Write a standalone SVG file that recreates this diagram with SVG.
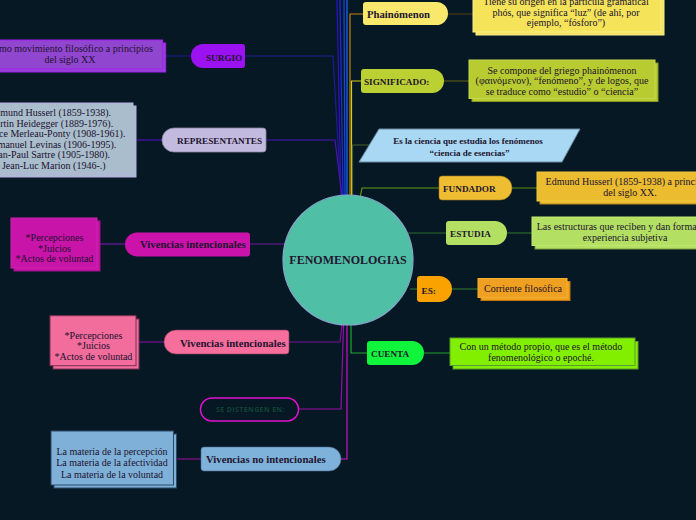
<svg xmlns="http://www.w3.org/2000/svg" width="696" height="520" viewBox="0 0 696 520">
<style>
.bg{fill:#061824}
.c{fill:none;stroke-width:1.2}
.t{font-family:"Liberation Serif","Times New Roman",serif;font-size:10px;fill:#21122e;text-anchor:middle}
.lbl{font-family:"Liberation Serif","Times New Roman",serif;font-weight:bold;fill:#22152e}
.cap{font-size:9.2px}
.mix{font-size:10.7px}
.sh{stroke-width:1}
</style>
<rect class="bg" x="0" y="0" width="696" height="520"/>

<g id="connectors">
  <path class="c" d="M337,0 L341,196" stroke="#3010c8"/>
  <path class="c" d="M340,0 L343,196" stroke="#1c2ce6"/>
  <path class="c" d="M344,0 L345,196" stroke="#1048f8"/>
  <path class="c" d="M347,0 L347,196" stroke="#1a6cff"/>
  <path class="c" d="M245,56 H333 L341,196" stroke="#221a96"/>
  <path class="c" d="M163,56 H191" stroke="#1c1c7a"/>
  <path class="c" d="M266,140 H335 L342,196" stroke="#4a12b8"/>
  <path class="c" d="M137,140 H162" stroke="#4a12b8"/>
  <path class="c" d="M363,14 H350 V196" stroke="#c8800e"/>
  <path class="c" d="M448,14 H473" stroke="#4a3a12"/>
  <path class="c" d="M361,81 H351.5 V196" stroke="#d6cc1a"/>
  <path class="c" d="M444,81 H469" stroke="#5a5a18"/>
  <path class="c" d="M369,145 H352.5 V196" stroke="#44602a"/>
  <path class="c" d="M439,188 H362 L360,198" stroke="#5c9c12"/>
  <path class="c" d="M512,188 H537" stroke="#4a7a12"/>
  <path class="c" d="M446,233 H408" stroke="#2a6a2a"/>
  <path class="c" d="M507,233 H532" stroke="#2a6a2a"/>
  <path class="c" d="M417,289 H410" stroke="#2a7030"/>
  <path class="c" d="M452,289 H478" stroke="#2a7030"/>
  <path class="c" d="M367,353 H351 V323" stroke="#1ca82c"/>
  <path class="c" d="M424,353 H450" stroke="#1c8a2a"/>
  <path class="c" d="M250,244 H285" stroke="#6a1aa0"/>
  <path class="c" d="M100,244 H125" stroke="#6a1aa0"/>
  <path class="c" d="M289,342 H340 L342,325" stroke="#7a109a"/>
  <path class="c" d="M139,342 H164" stroke="#7a109a"/>
  <path class="c" d="M299,409 H341 L343.5,325" stroke="#9a0ca8"/>
  <path class="c" d="M341,459 H347 V325" stroke="#c812c8"/>
  <path class="c" d="M176,459 H201" stroke="#8a108a"/>
</g>

<g id="center">
  <circle cx="348" cy="260" r="65" fill="#4fbfa5" stroke="#86a8cc" stroke-width="1.2"/>
  <text x="348" y="264" class="lbl" font-size="12" text-anchor="middle">FENOMENOLOGIAS</text>
</g>

<g id="surgio">
  <path d="M203,44 H242 Q245,44 245,47 V65 Q245,68 242,68 H203 A12,12 0 0 1 203,44 Z" fill="#9a12f2"/>
  <text x="206" y="60.5" class="lbl cap">SURGIO</text>
</g>
<g id="surgio-box">
  <rect x="-20" y="43" width="185.7" height="29" fill="#9146cf" stroke="#a51cf5" class="sh"/>
  <rect x="-23" y="40" width="185.7" height="29" fill="#9146cf" stroke="#a51cf5" class="sh"/>
  <text class="t"><tspan x="70" y="52">Como movimiento filosófico a principios</tspan><tspan x="70" y="63">del siglo XX</tspan></text>
</g>

<g id="representantes">
  <path d="M174,128 H263 Q266,128 266,131 V149 Q266,152 263,152 H174 A12,12 0 0 1 174,128 Z" fill="#c3bbdf" stroke="#8a86a0" stroke-width="0.8"/>
  <text x="177" y="144" class="lbl cap">REPRESENTANTES</text>
</g>
<g id="representantes-box">
  <rect x="-30" y="106" width="166" height="71" fill="#a9bdcc" stroke="#b8b0e0" class="sh"/>
  <rect x="-33" y="103" width="166" height="71" fill="#a9bdcc" stroke="#b8b0e0" class="sh"/>
  <text class="t"><tspan x="50" y="116">Edmund Husserl (1859-1938).</tspan><tspan x="50" y="126.5">Martin Heidegger (1889-1976).</tspan><tspan x="50" y="137">Maurice Merleau-Ponty (1908-1961).</tspan><tspan x="50" y="147.5">Emmanuel Levinas (1906-1995).</tspan><tspan x="50" y="158">Jean-Paul Sartre (1905-1980).</tspan><tspan x="50" y="168.5">y Jean-Luc Marion (1946-.)</tspan></text>
</g>

<g id="vivencias-1">
  <path d="M137,232.5 H247 Q250,232.5 250,235.5 V253.5 Q250,256.5 247,256.5 H137 A12,12 0 0 1 137,232.5 Z" fill="#cb12ab"/>
  <text x="140" y="248" class="lbl mix">Vivencias intencionales</text>
</g>
<g id="vivencias-1-box">
  <rect x="14" y="221" width="86" height="50" fill="#c814a8" stroke="#a01088" class="sh"/>
  <rect x="11" y="218" width="86" height="50" fill="#c814a8" stroke="#d020b0" class="sh"/>
  <text class="t"><tspan x="54.5" y="241">*Percepciones</tspan><tspan x="54.5" y="251.5">*Juicios</tspan><tspan x="54.5" y="262">*Actos de voluntad</tspan></text>
</g>

<g id="vivencias-2">
  <path d="M176,330 H286 Q289,330 289,333 V351 Q289,354 286,354 H176 A12,12 0 0 1 176,330 Z" fill="#f56e9c" stroke="#8a3a5a" stroke-width="0.6"/>
  <text x="180" y="346.5" class="lbl mix">Vivencias intencionales</text>
</g>
<g id="vivencias-2-box">
  <rect x="53" y="319" width="86" height="50" fill="#f26c9c" stroke="#7a3050" class="sh"/>
  <rect x="50" y="315.7" width="86" height="50" fill="#f26c9c" stroke="#7a3050" class="sh"/>
  <text class="t"><tspan x="93.5" y="339">*Percepciones</tspan><tspan x="93.5" y="349.3">*Juicios</tspan><tspan x="93.5" y="359.6">*Actos de voluntad</tspan></text>
</g>

<g id="se-distengen">
  <rect x="200.5" y="398" width="98" height="23" rx="11.5" fill="#061824" stroke="#e010d0" stroke-width="1.5"/>
  <text x="250.5" y="411.8" font-family="'Open Sans','DejaVu Sans',sans-serif" font-weight="bold" font-size="7" letter-spacing="0.4" fill="#0f4434" text-anchor="middle">SE DISTENGEN EN:</text>
</g>

<g id="no-intencionales">
  <path d="M204,447 H329 A12,12 0 0 1 329,471 H204 Q201,471 201,468 V450 Q201,447 204,447 Z" fill="#7fb2da" stroke="#4a6a8a" stroke-width="0.6"/>
  <text x="206" y="463" class="lbl mix">Vivencias no intencionales</text>
</g>
<g id="no-intencionales-box">
  <rect x="54" y="434" width="122.5" height="54" fill="#7eb0d8" stroke="#2a4a6a" class="sh"/>
  <rect x="51" y="431" width="122.5" height="54" fill="#7eb0d8" stroke="#2a4a6a" class="sh"/>
  <text class="t"><tspan x="112" y="454.5">La materia de la percepción</tspan><tspan x="112" y="466">La materia de la afectividad</tspan><tspan x="112" y="477.5">La materia de la voluntad</tspan></text>
</g>

<g id="phainomenon">
  <path d="M366,2 H436.5 A11.5,11.5 0 0 1 436.5,25 H366 Q363,25 363,22 V5 Q363,2 366,2 Z" fill="#f9e86b"/>
  <text x="367" y="17.5" class="lbl mix">Phainómenon</text>
</g>
<g id="phainomenon-box">
  <rect x="476" y="-9" width="188" height="44" fill="#f5e35a" stroke="#f8ee90" class="sh"/>
  <rect x="473" y="-12" width="188" height="44" fill="#f5e35a" stroke="#f8ee90" class="sh"/>
  <text class="t"><tspan x="566" y="5">Tiene su origen en la partícula gramatical</tspan><tspan x="566" y="15.5">phós, que significa “luz” (de ahí, por</tspan><tspan x="566" y="26">ejemplo, “fósforo”)</tspan></text>
</g>

<g id="significado">
  <path d="M364,69 H432 A12,12 0 0 1 432,93 H364 Q361,93 361,90 V72 Q361,69 364,69 Z" fill="#bbd032"/>
  <text x="364" y="84.5" class="lbl cap">SIGNIFICADO:</text>
</g>
<g id="significado-box">
  <rect x="472" y="63" width="186" height="38.5" fill="#b8cb30" stroke="#8a9a20" class="sh"/>
  <rect x="469" y="60" width="186" height="38.5" fill="#b8cb30" stroke="#c8d850" class="sh"/>
  <text class="t"><tspan x="562" y="73.5">Se compone del griego phainómenon</tspan><tspan x="562" y="84">(φαινόμενον), “fenómeno”, y de logos, que</tspan><tspan x="562" y="94.5">se traduce como “estudio” o “ciencia”</tspan></text>
</g>

<g id="es-la-ciencia">
  <polygon points="379,129 580,129 562,162 359,162" fill="#a8d8f4" stroke="#6a8aa0" stroke-width="1"/>
  <text class="lbl" font-size="9" text-anchor="middle"><tspan x="468" y="144">Es la ciencia que estudia los fenómenos</tspan><tspan x="469.5" y="156">“ciencia de esencias”</tspan></text>
</g>

<g id="fundador">
  <path d="M442,176 H500 A12,12 0 0 1 500,200 H442 Q439,200 439,197 V179 Q439,176 442,176 Z" fill="#eebd32" stroke="#9a7a20" stroke-width="0.6"/>
  <text x="443" y="192" class="lbl cap">FUNDADOR</text>
</g>
<g id="fundador-box">
  <rect x="540" y="175" width="190" height="29" fill="#ebbb30" stroke="#b08a20" class="sh"/>
  <rect x="537" y="172" width="190" height="29" fill="#ebbb30" stroke="#f0c840" class="sh"/>
  <text class="t"><tspan x="630" y="184.5">Edmund Husserl (1859-1938) a principios</tspan><tspan x="630" y="195.5">del siglo XX.</tspan></text>
</g>

<g id="estudia">
  <path d="M449,221 H495 A12,12 0 0 1 495,245 H449 Q446,245 446,242 V224 Q446,221 449,221 Z" fill="#b3e063"/>
  <text x="450" y="236.5" class="lbl cap">ESTUDIA</text>
</g>
<g id="estudia-box">
  <rect x="535" y="220.5" width="190" height="28.5" fill="#b3e063" stroke="#7a9a40" class="sh"/>
  <rect x="532" y="217" width="190" height="28.5" fill="#b3e063" stroke="#c0e870" class="sh"/>
  <text class="t"><tspan x="625" y="229.5">Las estructuras que reciben y dan forma a la</tspan><tspan x="625" y="240.5">experiencia subjetiva</tspan></text>
</g>

<g id="es">
  <path d="M420,276 H439 A13,13 0 0 1 439,302 H420 Q417,302 417,299 V279 Q417,276 420,276 Z" fill="#f9a200"/>
  <text x="421.5" y="293.5" class="lbl cap">ES:</text>
</g>
<g id="es-box">
  <rect x="481" y="281.5" width="89" height="19" fill="#f0a020" stroke="#c07810" class="sh"/>
  <rect x="478" y="278.5" width="89" height="19" fill="#f0a020" stroke="#f8b030" class="sh"/>
  <text x="523" y="292" class="t">Corriente filosófica</text>
</g>

<g id="cuenta">
  <path d="M370,341 H412 A12,12 0 0 1 412,365 H370 Q367,365 367,362 V344 Q367,341 370,341 Z" fill="#10f53c"/>
  <text x="371" y="357" class="lbl cap">CUENTA</text>
</g>
<g id="cuenta-box">
  <rect x="453" y="341.5" width="185" height="27.5" fill="#82ee00" stroke="#5a9a30" class="sh"/>
  <rect x="450" y="338" width="185" height="27.5" fill="#82ee00" stroke="#5a9a30" class="sh"/>
  <text class="t"><tspan x="541" y="350">Con un método propio, que es el método</tspan><tspan x="541" y="361">fenomenológico o epoché.</tspan></text>
</g>
</svg>
